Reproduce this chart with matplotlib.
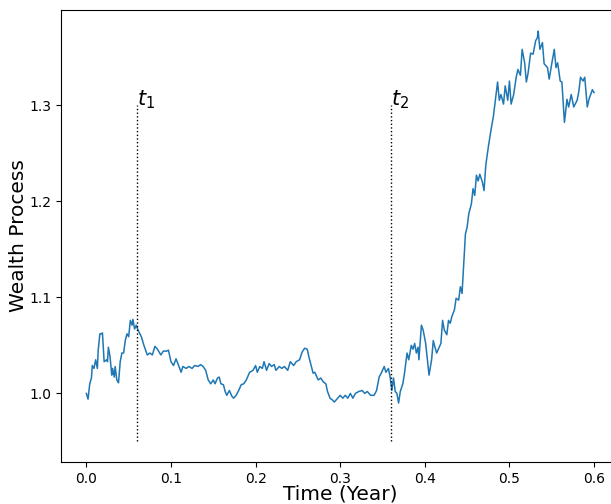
import numpy as np
import matplotlib
matplotlib.use('Agg')
import matplotlib.pyplot as plt

# time grid (years) and simulated wealth path
time = [0.000, 0.002, 0.004, 0.006, 0.007, 0.009, 0.011, 0.013, 0.014, 0.016,
        0.018, 0.019, 0.021, 0.024, 0.025, 0.026, 0.028, 0.030, 0.031, 0.033,
        0.034, 0.036, 0.038, 0.040, 0.042, 0.044, 0.046, 0.048, 0.050, 0.052,
        0.054, 0.055, 0.057, 0.059, 0.061, 0.065, 0.068, 0.072, 0.075, 0.078,
        0.081, 0.084, 0.088, 0.091, 0.095, 0.097, 0.100, 0.103, 0.106, 0.109,
        0.112, 0.114, 0.118, 0.121, 0.125, 0.128, 0.132, 0.135, 0.138, 0.141,
        0.144, 0.147, 0.150, 0.152, 0.155, 0.157, 0.159, 0.162, 0.164, 0.166,
        0.169, 0.172, 0.174, 0.177, 0.180, 0.183, 0.186, 0.189, 0.193, 0.197,
        0.200, 0.202, 0.205, 0.208, 0.210, 0.213, 0.216, 0.219, 0.222, 0.224,
        0.228, 0.231, 0.234, 0.238, 0.241, 0.245, 0.248, 0.252, 0.255, 0.258,
        0.261, 0.263, 0.266, 0.268, 0.270, 0.274, 0.277, 0.280, 0.283, 0.285,
        0.288, 0.291, 0.293, 0.297, 0.300, 0.303, 0.306, 0.309, 0.312, 0.315,
        0.318, 0.322, 0.326, 0.329, 0.332, 0.336, 0.340, 0.343, 0.346, 0.349,
        0.352, 0.354, 0.357, 0.359, 0.361, 0.363, 0.365, 0.367, 0.369, 0.371,
        0.374, 0.376, 0.379, 0.381, 0.384, 0.386, 0.388, 0.390, 0.392, 0.393,
        0.396, 0.398, 0.401, 0.403, 0.405, 0.408, 0.410, 0.412, 0.414, 0.417,
        0.419, 0.421, 0.423, 0.426, 0.428, 0.430, 0.432, 0.435, 0.437, 0.440,
        0.442, 0.444, 0.446, 0.448, 0.450, 0.452, 0.455, 0.457, 0.459, 0.461,
        0.463, 0.465, 0.468, 0.470, 0.472, 0.475, 0.478, 0.481, 0.484, 0.486,
        0.488, 0.490, 0.493, 0.495, 0.498, 0.500, 0.502, 0.505, 0.508, 0.510,
        0.513, 0.515, 0.518, 0.520, 0.522, 0.525, 0.528, 0.531, 0.533, 0.534,
        0.536, 0.539, 0.541, 0.545, 0.547, 0.550, 0.553, 0.555, 0.557, 0.560,
        0.562, 0.565, 0.568, 0.570, 0.573, 0.576, 0.580, 0.582, 0.584, 0.587,
        0.589, 0.592, 0.594, 0.596, 0.598, 0.600]
wealth = [1.000, 0.994, 1.010, 1.016, 1.029, 1.026, 1.035, 1.026, 1.045, 1.062,
          1.062, 1.063, 1.033, 1.035, 1.033, 1.048, 1.038, 1.019, 1.026, 1.017,
          1.028, 1.014, 1.011, 1.033, 1.042, 1.042, 1.055, 1.062, 1.059, 1.076,
          1.071, 1.077, 1.067, 1.071, 1.066, 1.059, 1.050, 1.040, 1.042, 1.040,
          1.049, 1.046, 1.040, 1.044, 1.044, 1.045, 1.033, 1.029, 1.036, 1.029,
          1.022, 1.028, 1.026, 1.028, 1.026, 1.029, 1.028, 1.030, 1.028, 1.024,
          1.014, 1.010, 1.014, 1.010, 1.016, 1.017, 1.010, 1.009, 1.002, 0.998,
          1.003, 0.997, 0.995, 0.998, 1.003, 1.009, 1.010, 1.014, 1.022, 1.024,
          1.029, 1.022, 1.028, 1.026, 1.033, 1.024, 1.031, 1.028, 1.030, 1.024,
          1.028, 1.026, 1.028, 1.024, 1.033, 1.029, 1.033, 1.035, 1.043, 1.047,
          1.046, 1.038, 1.028, 1.021, 1.022, 1.014, 1.016, 1.012, 1.010, 1.002,
          0.995, 0.993, 0.991, 0.995, 0.998, 0.995, 0.998, 0.995, 1.000, 0.995,
          1.000, 1.002, 1.003, 1.000, 1.002, 0.998, 0.998, 1.003, 1.017, 1.022,
          1.028, 1.022, 1.026, 1.017, 1.003, 1.016, 1.002, 1.000, 0.990, 1.002,
          1.010, 1.021, 1.042, 1.035, 1.050, 1.046, 1.052, 1.042, 1.048, 1.035,
          1.071, 1.066, 1.052, 1.035, 1.019, 1.035, 1.055, 1.048, 1.042, 1.048,
          1.052, 1.076, 1.066, 1.061, 1.076, 1.073, 1.080, 1.087, 1.099, 1.097,
          1.111, 1.104, 1.135, 1.166, 1.173, 1.187, 1.197, 1.213, 1.206, 1.227,
          1.221, 1.228, 1.220, 1.211, 1.237, 1.256, 1.273, 1.288, 1.310, 1.324,
          1.305, 1.311, 1.301, 1.320, 1.305, 1.325, 1.301, 1.311, 1.329, 1.337,
          1.331, 1.358, 1.344, 1.324, 1.333, 1.354, 1.353, 1.367, 1.370, 1.377,
          1.358, 1.365, 1.343, 1.339, 1.327, 1.343, 1.358, 1.339, 1.344, 1.325,
          1.324, 1.282, 1.306, 1.298, 1.311, 1.298, 1.305, 1.314, 1.329, 1.325,
          1.329, 1.298, 1.306, 1.311, 1.316, 1.313]

# switching times
t_marks = [0.06, 0.36]
t_labels = ['$t_1$', '$t_2$']
v_low, v_high = 0.95, 1.30

fig = plt.figure(figsize=(6.11, 5.04), dpi=100)
ax = fig.add_axes([0.0998, 0.0833, 0.914, 0.897])
ax.plot(time, wealth, color='#1f77b4', linewidth=1.1)

for tm, lab in zip(t_marks, t_labels):
    ax.vlines(tm, v_low, v_high, colors='k', linestyles='dotted', linewidth=1.0)
    ax.text(tm, v_high, lab, fontsize=15, ha='left', va='baseline')

ax.set_xlim(-0.03, 0.63)
ax.set_ylim(0.9286, 1.399)
ax.set_xticks([0.0, 0.1, 0.2, 0.3, 0.4, 0.5, 0.6])
ax.set_yticks([1.0, 1.1, 1.2, 1.3])
ax.tick_params(labelsize=10)
ax.set_xlabel('Time (Year)', fontsize=14.5, labelpad=-1)
ax.set_ylabel('Wealth Process', fontsize=14.5, labelpad=0.5)

fig.savefig('out.png', dpi=100)
